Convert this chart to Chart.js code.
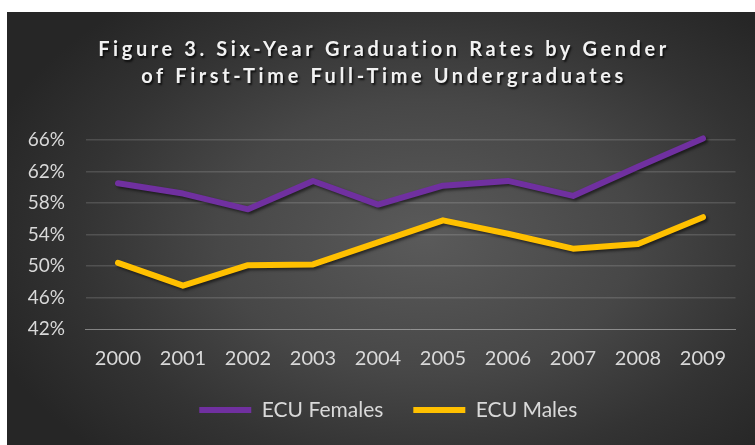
<!DOCTYPE html>
<html>
<head>
<meta charset="utf-8">
<script src="https://cdn.jsdelivr.net/npm/chart.js@4"></script>
<style>
  html, body { margin: 0; padding: 0; background: #ffffff; }
  #panel {
    position: absolute; left: 7px; top: 12px; width: 748px; height: 433px;
    background: radial-gradient(ellipse 62% 70% at 56% 52%, #5a5a5a 0%, #474747 45%, #333333 75%, #262626 100%);
  }
  canvas { display: block; }
</style>
</head>
<body>
<div id="panel"><canvas id="chart" width="748" height="433"></canvas></div>
<script>
// Six-year graduation rates (%) by entering cohort year
const years = ['2000', '2001', '2002', '2003', '2004', '2005', '2006', '2007', '2008', '2009'];
const ecuFemales = [60.5, 59.2, 57.2, 60.8, 57.8, 60.2, 60.8, 58.9, 62.6, 66.2];
const ecuMales = [50.4, 47.5, 50.1, 50.2, 53.0, 55.8, 54.1, 52.2, 52.8, 56.2];
const seriesNames = ['ECU Females', 'ECU Males'];
const titleLines = ['Figure 3. Six-Year Graduation Rates by Gender', 'of First-Time Full-Time Undergraduates'];

const FONT = 'Lato, "Open Sans", sans-serif';

// Letter-spaced, shadowed title drawn onto the canvas
const spacedTitle = {
  id: 'spacedTitle',
  afterDraw(chart) {
    const ctx = chart.ctx;
    ctx.save();
    ctx.font = 'bold 20px ' + FONT;
    ctx.letterSpacing = '3.6px';
    ctx.textAlign = 'center';
    ctx.textBaseline = 'alphabetic';
    ctx.fillStyle = '#f2f2f2';
    ctx.shadowColor = 'rgba(0,0,0,0.75)';
    ctx.shadowOffsetX = 1.5;
    ctx.shadowOffsetY = 1.5;
    ctx.shadowBlur = 2;
    const cx = chart.width / 2 + 3;
    titleLines.forEach((t, i) => ctx.fillText(t, cx, 44 + i * 27));
    ctx.restore();
  }
};

// Soft drop shadow beneath the series lines
const lineShadow = {
  id: 'lineShadow',
  beforeDatasetsDraw(chart) {
    const ctx = chart.ctx;
    ctx.save();
    ctx.shadowColor = 'rgba(0,0,0,0.55)';
    ctx.shadowOffsetX = 2;
    ctx.shadowOffsetY = 2;
    ctx.shadowBlur = 3;
  },
  afterDatasetsDraw(chart) {
    chart.ctx.restore();
  }
};

// Centre the legend row under the plot rather than under the whole canvas
const legendShift = {
  id: 'legendShift',
  afterLayout(chart) {
    const lg = chart.legend;
    if (!lg) return;
    lg.left += 17;
    lg.right += 17;
  }
};

new Chart(document.getElementById('chart'), {
  type: 'line',
  data: {
    labels: years,
    datasets: [
      {
        label: seriesNames[0],
        data: ecuFemales,
        borderColor: '#7030a0',
        backgroundColor: '#7030a0',
        borderWidth: 6,
        borderCapStyle: 'round',
        borderJoinStyle: 'round',
        pointRadius: 0,
        tension: 0,
        clip: false
      },
      {
        label: seriesNames[1],
        data: ecuMales,
        borderColor: '#ffc000',
        backgroundColor: '#ffc000',
        borderWidth: 6,
        borderCapStyle: 'round',
        borderJoinStyle: 'round',
        pointRadius: 0,
        tension: 0,
        clip: false
      }
    ]
  },
  options: {
    responsive: false,
    animation: false,
    layout: { padding: { top: 128, left: 0, right: 19.5, bottom: 14.5 } },
    plugins: {
      title: { display: false },
      tooltip: { enabled: false },
      legend: {
        position: 'bottom',
        labels: {
          usePointStyle: true,
          pointStyle: 'line',
          pointStyleWidth: 52,
          padding: 30,
          color: '#d9d9d9',
          font: { family: FONT, size: 21 }
        }
      }
    },
    scales: {
      x: {
        offset: true,
        grid: { display: false, drawTicks: false },
        border: { display: true, color: 'rgba(230,230,230,0.45)', width: 1, dash: [1, 1] },
        ticks: { color: '#d9d9d9', padding: 18, font: { family: FONT, size: 20 } },
        afterFit(scale) { scale.height = 40.5; }
      },
      y: {
        min: 42,
        max: 66,
        grid: {
          drawTicks: false,
          lineWidth: 1.5,
          color: (c) => (c.tick && c.tick.value === 42) ? 'rgba(0,0,0,0)' : 'rgba(255,255,255,0.14)'
        },
        border: { display: false },
        ticks: {
          stepSize: 4,
          padding: 20.5,
          color: '#d9d9d9',
          font: { family: FONT, size: 19 },
          callback: (v) => v + '%'
        },
        afterFit(scale) { scale.width = 78.5; }
      }
    }
  },
  plugins: [lineShadow, spacedTitle, legendShift]
});
</script>
</body>
</html>
